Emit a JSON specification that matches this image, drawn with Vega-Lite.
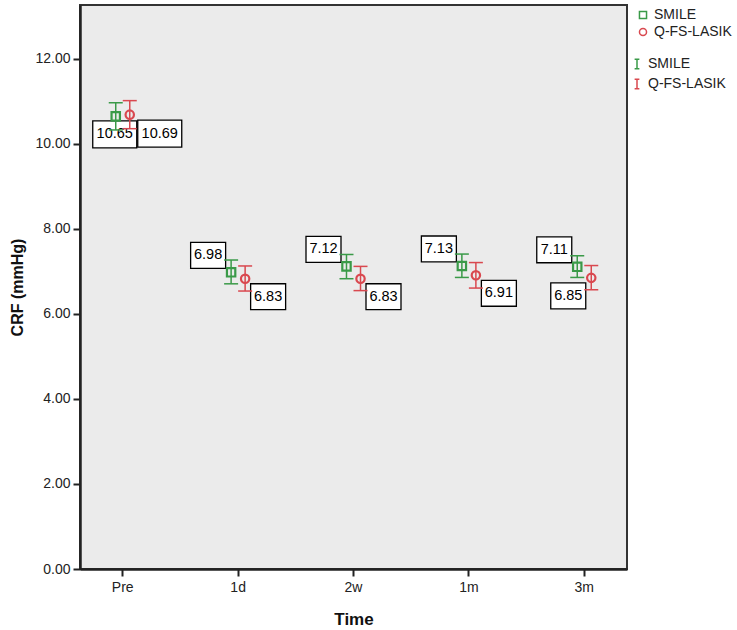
{
  "$schema": "https://vega.github.io/schema/vega-lite/v6.json",
  "width": 547,
  "height": 564,
  "autosize": "none",
  "padding": {"left": 80, "top": 5, "right": 110, "bottom": 61},
  "background": "white",
  "config": {
    "view": {"fill": "#ebebeb", "stroke": "#333333", "strokeWidth": 2},
    "font": "Liberation Sans",
    "axisY": {
      "titleFontSize": 16, "titleFontWeight": "bold", "titleColor": "#111", "titlePadding": 9,
      "labelFontSize": 14, "labelColor": "#222", "labelPadding": 3,
      "tickSize": 7, "tickWidth": 2, "tickColor": "#222", "domainWidth": 2.5, "domainColor": "#222", "grid": false
    }
  },
  "data": {
    "values": [
      {"time": "Pre", "group": "SMILE", "mean": 10.65, "lo": 10.33, "hi": 10.97},
      {"time": "1d", "group": "SMILE", "mean": 6.98, "lo": 6.71, "hi": 7.27},
      {"time": "2w", "group": "SMILE", "mean": 7.12, "lo": 6.83, "hi": 7.40},
      {"time": "1m", "group": "SMILE", "mean": 7.13, "lo": 6.86, "hi": 7.41},
      {"time": "3m", "group": "SMILE", "mean": 7.11, "lo": 6.86, "hi": 7.37},
      {"time": "Pre", "group": "Q-FS-LASIK", "mean": 10.69, "lo": 10.36, "hi": 11.02},
      {"time": "1d", "group": "Q-FS-LASIK", "mean": 6.83, "lo": 6.54, "hi": 7.13},
      {"time": "2w", "group": "Q-FS-LASIK", "mean": 6.83, "lo": 6.55, "hi": 7.12},
      {"time": "1m", "group": "Q-FS-LASIK", "mean": 6.91, "lo": 6.61, "hi": 7.21},
      {"time": "3m", "group": "Q-FS-LASIK", "mean": 6.85, "lo": 6.57, "hi": 7.14}
    ]
  },
  "encoding": {
    "x": {
      "field": "time", "type": "nominal", "sort": ["Pre", "1d", "2w", "1m", "3m"],
      "scale": {"type": "band", "paddingInner": 0.757, "paddingOuter": 0.249},
      "axis": {
        "title": "Time", "titleFontSize": 17, "titleFontWeight": "bold", "titleColor": "#111", "titlePadding": 17,
        "labelAngle": 0, "labelFontSize": 14, "labelColor": "#222", "labelPadding": 4,
        "tickSize": 7, "tickWidth": 2, "tickColor": "#222", "domainWidth": 2.5, "domainColor": "#222", "grid": false
      }
    }
  },
  "layer": [
    {
      "transform": [{"filter": "datum.group === 'SMILE' && datum.time !== 'Pre'"}],
      "layer": [
        {
          "mark": {"type": "point", "shape": "M-1,-0.74L1,-0.74L1,0.74L-1,0.74Z", "size": 1225, "filled": true, "fill": "white", "stroke": "black", "strokeWidth": 1.3, "opacity": 1, "xOffset": -30, "yOffset": -17},
          "encoding": {"y": {"field": "mean", "type": "quantitative", "title": "CRF (mmHg)", "scale": {"domain": [0, 13.27], "nice": false}, "axis": {"values": [0, 2, 4, 6, 8, 10, 12], "format": ".2f"}}}
        },
        {
          "mark": {"type": "text", "fontSize": 14.5, "color": "black", "xOffset": -30, "yOffset": -17, "baseline": "middle", "align": "center"},
          "encoding": {"y": {"field": "mean", "type": "quantitative", "title": "CRF (mmHg)"}, "text": {"field": "mean", "type": "quantitative", "format": ".2f"}}
        }
      ]
    },
    {
      "transform": [{"filter": "datum.group === 'Q-FS-LASIK' && datum.time !== 'Pre' && datum.time !== '3m'"}],
      "layer": [
        {
          "mark": {"type": "point", "shape": "M-1,-0.74L1,-0.74L1,0.74L-1,0.74Z", "size": 1225, "filled": true, "fill": "white", "stroke": "black", "strokeWidth": 1.3, "opacity": 1, "xOffset": 30, "yOffset": 18},
          "encoding": {"y": {"field": "mean", "type": "quantitative", "title": "CRF (mmHg)"}}
        },
        {
          "mark": {"type": "text", "fontSize": 14.5, "color": "black", "xOffset": 30, "yOffset": 18, "baseline": "middle", "align": "center"},
          "encoding": {"y": {"field": "mean", "type": "quantitative", "title": "CRF (mmHg)"}, "text": {"field": "mean", "type": "quantitative", "format": ".2f"}}
        }
      ]
    },
    {
      "transform": [{"filter": "datum.group === 'Q-FS-LASIK' && datum.time === '3m'"}],
      "layer": [
        {
          "mark": {"type": "point", "shape": "M-1,-0.74L1,-0.74L1,0.74L-1,0.74Z", "size": 1225, "filled": true, "fill": "white", "stroke": "black", "strokeWidth": 1.3, "opacity": 1, "xOffset": -16, "yOffset": 18},
          "encoding": {"y": {"field": "mean", "type": "quantitative", "title": "CRF (mmHg)"}}
        },
        {
          "mark": {"type": "text", "fontSize": 14.5, "color": "black", "xOffset": -16, "yOffset": 18, "baseline": "middle", "align": "center"},
          "encoding": {"y": {"field": "mean", "type": "quantitative", "title": "CRF (mmHg)"}, "text": {"field": "mean", "type": "quantitative", "format": ".2f"}}
        }
      ]
    },
    {
      "transform": [{"filter": "datum.group === 'SMILE' && datum.time === 'Pre'"}],
      "layer": [
        {
          "mark": {"type": "point", "shape": "M-1,-0.614L1,-0.614L1,0.614L-1,0.614Z", "size": 1936, "filled": true, "fill": "white", "stroke": "black", "strokeWidth": 1.3, "opacity": 1, "xOffset": -8, "yOffset": 18},
          "encoding": {"y": {"field": "mean", "type": "quantitative", "title": "CRF (mmHg)"}}
        },
        {
          "mark": {"type": "text", "fontSize": 14.5, "color": "black", "xOffset": -8, "yOffset": 18, "baseline": "middle", "align": "center"},
          "encoding": {"y": {"field": "mean", "type": "quantitative", "title": "CRF (mmHg)"}, "text": {"field": "mean", "type": "quantitative", "format": ".2f"}}
        }
      ]
    },
    {
      "transform": [{"filter": "datum.group === 'Q-FS-LASIK' && datum.time === 'Pre'"}],
      "layer": [
        {
          "mark": {"type": "point", "shape": "M-1,-0.614L1,-0.614L1,0.614L-1,0.614Z", "size": 1936, "filled": true, "fill": "white", "stroke": "black", "strokeWidth": 1.3, "opacity": 1, "xOffset": 37, "yOffset": 19},
          "encoding": {"y": {"field": "mean", "type": "quantitative", "title": "CRF (mmHg)"}}
        },
        {
          "mark": {"type": "text", "fontSize": 14.5, "color": "black", "xOffset": 37, "yOffset": 19, "baseline": "middle", "align": "center"},
          "encoding": {"y": {"field": "mean", "type": "quantitative", "title": "CRF (mmHg)"}, "text": {"field": "mean", "type": "quantitative", "format": ".2f"}}
        }
      ]
    },
    {
      "mark": {"type": "rule", "strokeWidth": 1.5},
      "encoding": {
        "xOffset": {"field": "group", "type": "nominal", "scale": {"domain": ["SMILE", "Q-FS-LASIK"], "paddingInner": 0, "paddingOuter": 0}},
        "y": {"field": "lo", "type": "quantitative", "title": "CRF (mmHg)"},
        "y2": {"field": "hi"},
        "stroke": {
          "field": "group", "type": "nominal", "sort": ["SMILE", "Q-FS-LASIK"],
          "scale": {"range": ["#3a9a48", "#d9484f"]},
          "legend": {
            "title": null, "orient": "none", "legendX": 550, "legendY": 52, "padding": 0,
            "symbolType": "M-0.5,-1L0.5,-1M0,-1L0,1M-0.5,1L0.5,1", "symbolSize": 90, "symbolStrokeWidth": 1.5,
            "labelFontSize": 14, "labelColor": "#222", "labelFont": "Liberation Sans", "rowPadding": 4, "labelOffset": 4
          }
        }
      }
    },
    {
      "mark": {"type": "point", "shape": "M-1,0L1,0", "size": 196, "strokeWidth": 1.5, "filled": false, "opacity": 1},
      "encoding": {
        "xOffset": {"field": "group", "type": "nominal"},
        "y": {"field": "hi", "type": "quantitative", "title": "CRF (mmHg)"},
        "stroke": {"field": "group", "type": "nominal", "sort": ["SMILE", "Q-FS-LASIK"]}
      }
    },
    {
      "mark": {"type": "point", "shape": "M-1,0L1,0", "size": 196, "strokeWidth": 1.5, "filled": false, "opacity": 1},
      "encoding": {
        "xOffset": {"field": "group", "type": "nominal"},
        "y": {"field": "lo", "type": "quantitative", "title": "CRF (mmHg)"},
        "stroke": {"field": "group", "type": "nominal", "sort": ["SMILE", "Q-FS-LASIK"]}
      }
    },
    {
      "mark": {"type": "point", "filled": false, "strokeWidth": 2.2, "opacity": 1, "size": 70},
      "encoding": {
        "xOffset": {"field": "group", "type": "nominal"},
        "y": {"field": "mean", "type": "quantitative", "title": "CRF (mmHg)"},
        "color": {
          "field": "group", "type": "nominal",
          "scale": {"domain": ["SMILE", "Q-FS-LASIK"], "range": ["#3a9a48", "#d9484f"]},
          "legend": {
            "title": null, "orient": "none", "legendX": 556, "legendY": 3, "padding": 0,
            "symbolSize": 50, "symbolStrokeWidth": 1.5,
            "labelFontSize": 14, "labelColor": "#222", "labelFont": "Liberation Sans", "rowPadding": 3, "labelOffset": 4
          }
        },
        "shape": {
          "field": "group", "type": "nominal",
          "scale": {"domain": ["SMILE", "Q-FS-LASIK"], "range": ["square", "circle"]},
          "legend": {
            "title": null, "orient": "none", "legendX": 556, "legendY": 3, "padding": 0,
            "symbolSize": 50, "symbolStrokeWidth": 1.5,
            "labelFontSize": 14, "labelColor": "#222", "labelFont": "Liberation Sans", "rowPadding": 3, "labelOffset": 4
          }
        }
      }
    }
  ]
}
